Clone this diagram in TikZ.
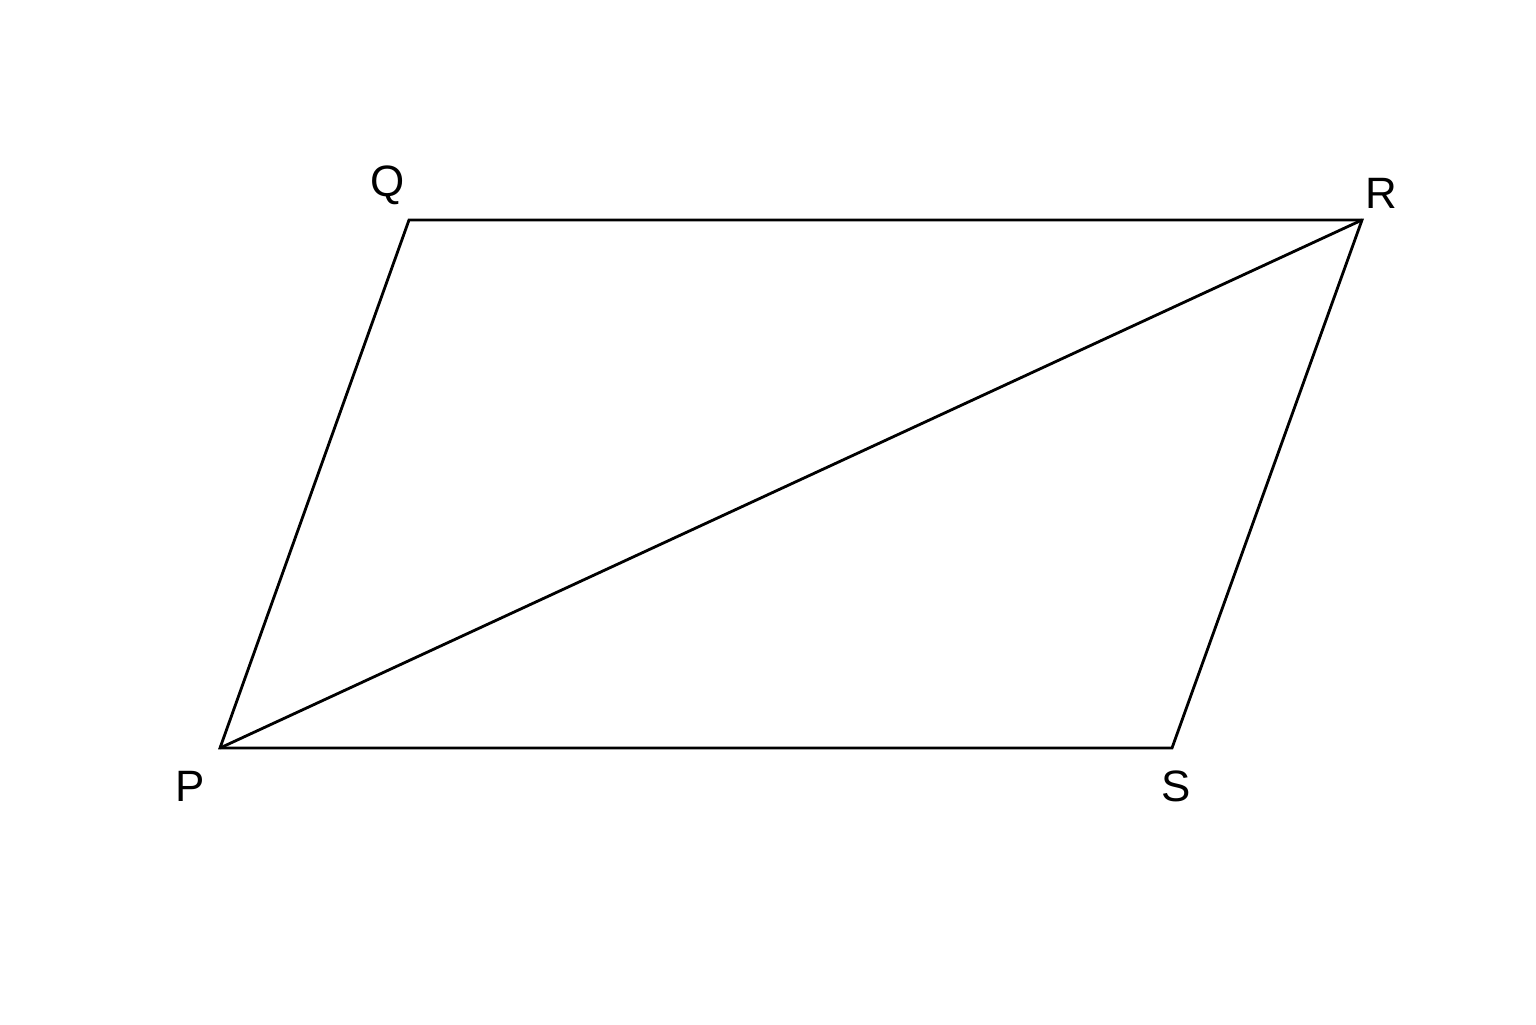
\documentclass[tikz,border=0pt]{standalone}
\usepackage{fontspec}
\setmainfont{Liberation Sans}
\begin{document}
\begin{tikzpicture}
      \tikzstyle{edge}=[line width=0.8pt,line join=miter]
      \tikzstyle{vlabel}=[inner sep=0pt,font=\fontsize{12.5}{14}\selectfont]
      \useasboundingbox (0,0) rectangle (15.36,10.24);
      \fill[white] (0,0) rectangle (15.36,10.24);

      \coordinate (P) at (2.20,2.76);
      \coordinate (Q) at (4.09,8.04);
      \coordinate (R) at (13.62,8.04);
      \coordinate (S) at (11.72,2.76);

      \node[vlabel] (LP) at (1.90,2.38) {P};
      \node[vlabel] (LQ) at (3.88,8.39) {Q};
      \node[vlabel] (LR) at (13.81,8.31) {R};
      \node[vlabel] (LS) at (11.76,2.38) {S};

      \draw[edge] (P) -- (Q) -- (R) -- (S) -- cycle;
      \draw[edge] (P) -- (R);
    \end{tikzpicture}
\end{document}
